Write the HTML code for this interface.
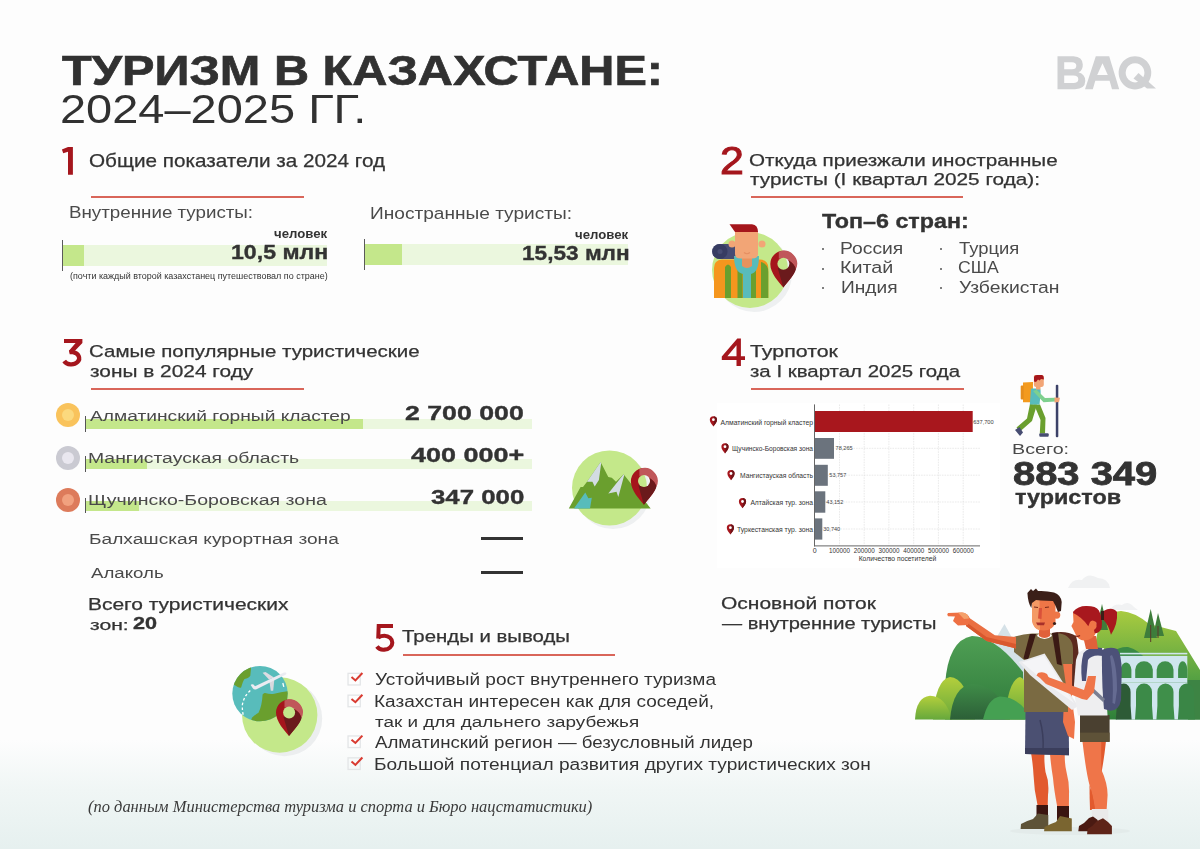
<!DOCTYPE html>
<html><head><meta charset="utf-8"><style>
html,body{margin:0;padding:0;}
body{width:1200px;height:849px;position:relative;overflow:hidden;background:linear-gradient(to bottom,#fdfdfd 0px,#fdfdfd 740px,#f0f6f5 790px,#e6f0ef 849px);}
.t{position:absolute;white-space:nowrap;transform-origin:0 0;}
.a{position:absolute;}
</style></head><body>
<svg class="a" style="left:0;top:0" width="1200" height="849" viewBox="0 0 1200 849">
<g fill="#d0d1d3" fill-rule="evenodd">
<path d="M1057.5 56.2 L1073.5 56.2 Q1082.5 56.6 1082.8 64.5 Q1083 70.5 1078.5 72.3 Q1085.3 74.3 1085.3 81 Q1085 89 1075 89.2 L1057.5 89.2 Z M1064.2 62.3 L1064.2 69.3 L1072 69.3 Q1076.3 69.3 1076.3 65.8 Q1076.3 62.3 1072 62.3 Z M1064.2 75.6 L1064.2 83.1 L1073.3 83.1 Q1078.3 83.1 1078.3 79.3 Q1078.3 75.6 1073.3 75.6 Z"/>
<path d="M1095.8 56.2 L1109.2 56.2 L1119.2 89.2 L1112 89.2 L1109.6 80.8 L1095.3 80.8 L1092.8 89.2 L1085 89.2 Z M1102.5 63.3 L1097.2 75 L1107.8 75 Z"/>
<path d="M1135 56.2 A16.3 16.6 0 1 1 1134.9 56.2 Z M1135 63.2 A9.4 9.6 0 1 0 1135.1 63.2 Z"/>
<path d="M1133.5 78.5 L1138.5 73 L1156 88.6 L1147 88.6 Z"/>
</g>
</svg>

<svg class="a" style="left:0;top:0" width="1200" height="849" viewBox="0 0 1200 849">
<defs>
<g id="mpin"><path d="M0 9 C-1.2 7.2 -3.6 4.6 -3.6 2.4 A3.6 3.6 0 0 1 3.6 2.4 C3.6 4.6 1.2 7.2 0 9 Z" fill="#a5161d"/><path d="M0 9 C1.2 7.2 3.6 4.6 3.6 2.4 A3.6 3.6 0 0 0 0.5 -1.2 L0.5 4 Z" fill="#6e1418"/><circle cx="0" cy="2.2" r="1.4" fill="#fff"/></g>
</defs>
<rect x="717" y="403" width="283" height="165" fill="#ffffff"/>
<g stroke="#dcdcdc" stroke-width="0.6" stroke-dasharray="1.6 1">
<line x1="839.5" y1="404.5" x2="839.5" y2="545.8"/>
<line x1="864.2" y1="404.5" x2="864.2" y2="545.8"/>
<line x1="888.9" y1="404.5" x2="888.9" y2="545.8"/>
<line x1="913.7" y1="404.5" x2="913.7" y2="545.8"/>
<line x1="938.4" y1="404.5" x2="938.4" y2="545.8"/>
<line x1="963.2" y1="404.5" x2="963.2" y2="545.8"/>
<line x1="814.5" y1="421.5" x2="980" y2="421.5"/>
<line x1="814.5" y1="448.3" x2="980" y2="448.3"/>
<line x1="814.5" y1="475.2" x2="980" y2="475.2"/>
<line x1="814.5" y1="502" x2="980" y2="502"/>
<line x1="814.5" y1="529" x2="980" y2="529"/>
</g>
<rect x="814.7" y="411" width="158" height="21" fill="#a8171d"/>
<rect x="814.7" y="438" width="19.3" height="20.8" fill="#6b737d"/>
<rect x="814.7" y="464.8" width="13.1" height="21" fill="#6b737d"/>
<rect x="814.7" y="491.3" width="10.6" height="21.4" fill="#6b737d"/>
<rect x="814.7" y="518.4" width="7.6" height="21.2" fill="#6b737d"/>
<line x1="814.5" y1="404.4" x2="814.5" y2="546.4" stroke="#666" stroke-width="1"/>
<line x1="814" y1="545.9" x2="980" y2="545.9" stroke="#666" stroke-width="1"/>
<g font-family="'Liberation Sans', sans-serif" fill="#333">
<g font-size="7.6" text-anchor="end">
<text x="813" y="424.6" textLength="92.5" lengthAdjust="spacingAndGlyphs">Алматинский горный кластер</text>
<text x="813" y="451.2" textLength="81" lengthAdjust="spacingAndGlyphs">Щучинско-Боровская зона</text>
<text x="813" y="478" textLength="73" lengthAdjust="spacingAndGlyphs">Мангистауская область</text>
<text x="813" y="505.2" textLength="62.6" lengthAdjust="spacingAndGlyphs">Алтайская тур. зона</text>
<text x="813" y="532" textLength="76" lengthAdjust="spacingAndGlyphs">Туркестанская тур. зона</text>
</g>
<g font-size="6.2" fill="#444">
<text x="973.2" y="423.6" textLength="20.5" lengthAdjust="spacingAndGlyphs">637,700</text>
<text x="835.6" y="450.4" textLength="17" lengthAdjust="spacingAndGlyphs">78,265</text>
<text x="829.3" y="477.3" textLength="17" lengthAdjust="spacingAndGlyphs">53,757</text>
<text x="826.3" y="504.3" textLength="17" lengthAdjust="spacingAndGlyphs">43,152</text>
<text x="823.2" y="531.2" textLength="17" lengthAdjust="spacingAndGlyphs">30,740</text>
</g>
<g font-size="7" text-anchor="middle" fill="#333">
<text x="814.6" y="553.4">0</text>
<text x="839.5" y="553.4" textLength="21" lengthAdjust="spacingAndGlyphs">100000</text>
<text x="864.2" y="553.4" textLength="21" lengthAdjust="spacingAndGlyphs">200000</text>
<text x="888.9" y="553.4" textLength="21" lengthAdjust="spacingAndGlyphs">300000</text>
<text x="913.7" y="553.4" textLength="21" lengthAdjust="spacingAndGlyphs">400000</text>
<text x="938.4" y="553.4" textLength="21" lengthAdjust="spacingAndGlyphs">500000</text>
<text x="963.2" y="553.4" textLength="21" lengthAdjust="spacingAndGlyphs">600000</text>
<text x="897.5" y="561.2" textLength="77.7" lengthAdjust="spacingAndGlyphs">Количество посетителей</text>
</g>
</g>
<use href="#mpin" x="713.4" y="417.5"/>
<use href="#mpin" x="725" y="444.5"/>
<use href="#mpin" x="731" y="471.3"/>
<use href="#mpin" x="742.5" y="499.3"/>
<use href="#mpin" x="730.4" y="525.5"/>
</svg>

<!-- red underlines -->
<div class="a" style="left:91px;top:196px;width:213px;height:2px;background:#d9665a"></div>
<div class="a" style="left:751px;top:196px;width:212px;height:2px;background:#d9665a"></div>
<div class="a" style="left:91px;top:388px;width:213px;height:2px;background:#d9665a"></div>
<div class="a" style="left:751px;top:388px;width:213px;height:2px;background:#d9665a"></div>
<div class="a" style="left:403px;top:654px;width:212px;height:2px;background:#d9665a"></div>
<!-- section1 bars -->
<div class="a" style="left:63px;top:245px;width:264px;height:21px;background:#ebf7de"></div>
<div class="a" style="left:63px;top:245px;width:21px;height:21px;background:#c4e78b"></div>
<div class="a" style="left:62px;top:240px;width:1.2px;height:31px;background:#5a5a5a"></div>
<div class="a" style="left:364px;top:244px;width:264px;height:21px;background:#ebf7de"></div>
<div class="a" style="left:364px;top:244px;width:38px;height:21px;background:#c4e78b"></div>
<div class="a" style="left:363.5px;top:239px;width:1.2px;height:31px;background:#5a5a5a"></div>
<!-- section3 bars -->
<div class="a" style="left:85px;top:419px;width:447px;height:10px;background:#ebf7de"></div>
<div class="a" style="left:85px;top:419px;width:278px;height:10px;background:#c4e78b"></div>
<div class="a" style="left:85px;top:459px;width:447px;height:10px;background:#ebf7de"></div>
<div class="a" style="left:85px;top:459px;width:62px;height:10px;background:#c4e78b"></div>
<div class="a" style="left:85px;top:501px;width:447px;height:10px;background:#ebf7de"></div>
<div class="a" style="left:85px;top:501px;width:54px;height:10px;background:#c4e78b"></div>
<div class="a" style="left:84.5px;top:416px;width:1.1px;height:16px;background:#555"></div>
<div class="a" style="left:84.5px;top:456px;width:1.1px;height:15.5px;background:#555"></div>
<div class="a" style="left:84.5px;top:498.3px;width:1.1px;height:15px;background:#555"></div>
<!-- circles -->
<div class="a" style="left:55.5px;top:403px;width:24px;height:24px;border-radius:50%;background:#f9c35c"></div>
<div class="a" style="left:61.5px;top:409px;width:12px;height:12px;border-radius:50%;background:#fbd97e"></div>
<div class="a" style="left:55.5px;top:446px;width:24px;height:24px;border-radius:50%;background:#cacad2"></div>
<div class="a" style="left:61.5px;top:452px;width:12px;height:12px;border-radius:50%;background:#e9e7ef"></div>
<div class="a" style="left:55.5px;top:488px;width:24px;height:24px;border-radius:50%;background:#dd7b5b"></div>
<div class="a" style="left:61.5px;top:494px;width:12px;height:12px;border-radius:50%;background:#f1a17f"></div>
<!-- dashes -->
<div class="a" style="left:481px;top:536.5px;width:42px;height:3px;background:#333"></div>
<div class="a" style="left:481px;top:570.5px;width:42px;height:3px;background:#333"></div>
<!-- bullets -->
<div class="a" style="left:822px;top:248px;width:2px;height:2px;background:#555;border-radius:50%"></div>
<div class="a" style="left:822px;top:267.5px;width:2px;height:2px;background:#555;border-radius:50%"></div>
<div class="a" style="left:822px;top:287px;width:2px;height:2px;background:#555;border-radius:50%"></div>
<div class="a" style="left:940px;top:248px;width:2px;height:2px;background:#555;border-radius:50%"></div>
<div class="a" style="left:940px;top:267.5px;width:2px;height:2px;background:#555;border-radius:50%"></div>
<div class="a" style="left:940px;top:287px;width:2px;height:2px;background:#555;border-radius:50%"></div>

<svg class="a" style="left:0;top:0" width="1200" height="849" viewBox="0 0 1200 849">
<defs>
<mask id="pinhole" maskUnits="userSpaceOnUse" x="-2" y="-2" width="32" height="42"><rect x="-2" y="-2" width="32" height="42" fill="#fff"/><circle cx="13.1" cy="13" r="6" fill="#000"/></mask>
<g id="bigpin"><g mask="url(#pinhole)">
<path d="M13 36.6 C8.5 31 0 22.5 0 13.1 A13.1 13.1 0 0 1 26.2 13.1 C26.2 22.5 17.5 31 13 36.6 Z" fill="#a5161c"/>
<path d="M8.5 1 A13.1 13.1 0 0 1 25.6 18.5 A15.2 15.2 0 0 0 8.5 8 Z" fill="#c0575a"/>
<path d="M7.5 17.5 L13 36.6 C17.5 31 24.5 23.5 25.6 18.5 A15.2 15.2 0 0 0 18.6 9.8 L13 13 Z" fill="#6b1a1c"/>
</g></g>
</defs>

<!-- ICON 2: traveler -->
<circle cx="754" cy="274" r="38" fill="#eef0f1"/>
<circle cx="750" cy="270" r="38" fill="#c4e88a"/>
<rect x="712" y="244" width="30" height="15" rx="7.5" fill="#474c73"/>
<circle cx="720" cy="251.5" r="7.5" fill="#373c62"/>
<circle cx="720" cy="251.5" r="2.5" fill="#474c73"/>
<path d="M714 298 L714 268 Q714 260 722 259.5 L760 259.5 Q768.3 260 768.3 268 L768.3 298 Z" fill="#f5961e"/>
<path d="M725 298 L725 267 Q728 262 731 267 L731 298 Z" fill="#6a9f2e"/>
<path d="M737.5 298 L737.5 270 L742.6 270 L742.6 298 Z" fill="#6a9f2e"/>
<path d="M751 298 L751 270 L756 270 L756 298 Z" fill="#6a9f2e"/>
<path d="M761 298 L761 262 Q768.3 264 768.3 272 L768.3 298 Z" fill="#6a9f2e"/>
<path d="M734 256 Q734 272 743 274 L743 298 L751 298 L751 274 Q759 272 759 256 Z" fill="#58bcbb"/>
<path d="M742 256 L752 256 L752 266 Q747 270 742 266 Z" fill="#e8925e"/>
<circle cx="732" cy="244" r="3.5" fill="#f2a576"/>
<circle cx="762" cy="244" r="3.5" fill="#f2a576"/>
<path d="M735 232 L758 232 L758 254 Q758 258.5 752 258.5 L741 258.5 Q735 258.5 735 254 Z" fill="#f2a576"/>
<path d="M744 252.5 Q747 255 750 252.5" stroke="#e58f62" stroke-width="1.2" fill="none"/>
<path d="M729.5 224.2 L752 224.2 Q758 225 758 232 L735 232 Z" fill="#a5161c"/>

<!-- ICON 3: mountains -->
<circle cx="613" cy="491.5" r="37.5" fill="#eef0f1"/>
<circle cx="609.5" cy="488" r="37.5" fill="#c4e88a"/>
<polygon points="568.8,508.5 580.6,487.1 583,487 587,481.8 600.6,462.1 608.3,477.1 611.8,477.7 616,481.8 623.6,474.2 650.7,508.5" fill="#6a9f2e"/>
<polygon points="587,481.8 600.6,462.1 601.2,463 598.9,480 594.7,486.5 592.4,481.8" fill="#d3dce3"/>
<polygon points="608.3,493.6 623.6,474.2 624.2,475.3 618.3,497.1 616.5,491.8" fill="#d3dce3"/>
<polygon points="573.9,508.5 585.3,492.4 588.3,498.3 591.8,497.7 590,508.5" fill="#58bcbb"/>

<!-- ICON 5: globe -->
<circle cx="284.5" cy="718.5" r="37.7" fill="#eceeef"/>
<circle cx="279.7" cy="715" r="37.7" fill="#c4e88a"/>
<circle cx="260" cy="693.6" r="27.7" fill="#58bcbb"/>
<clipPath id="gclip"><circle cx="260" cy="693.6" r="27.7"/></clipPath>
<g clip-path="url(#gclip)" fill="#6a9f2e">
<path d="M230 688 L234.2 684.7 Q240 689 241.2 687.2 Q243 681 244.5 679 Q249 678 250.3 675.7 L251.1 667.8 L251 660 L228 660 Z"/>
<path d="M250 725 L251.9 717.7 Q256 714 258.5 712.8 Q262 706 262.6 694.6 Q264 692.5 265.1 693 Q270 694.5 274.2 693.8 Q281 692 287.4 691.3 L292 691 L292 725 Z"/>
</g>
<path d="M250.3 690.5 Q244 696 242.4 704.5 Q242 711 243.7 716.9" stroke="#fff" stroke-width="1.3" fill="none" stroke-dasharray="2.6 2.2"/>
<path d="M282.8 683 L283.8 686.8" stroke="#fff" stroke-width="1.3" fill="none"/>
<path d="M262.6 672.8 L265.5 672 L274 677.5 L269 679.5 Z" fill="#dcdce2"/>
<path d="M269.2 680 L274.5 677.5 L273.2 690.8 L270.8 690.8 Z" fill="#d9d9de"/>
<path d="M250.7 685 Q251.5 684 253.5 684.6 L255 686.3 L284 672.6 Q287.5 671.8 286 674.6 L256.5 689.2 Q254 690 252.8 688.2 Z" fill="#ebebf2"/>

<use href="#bigpin" transform="translate(770.3,250.8)"/>
<use href="#bigpin" transform="translate(630.9,468.1)"/>
<use href="#bigpin" transform="translate(276,699.5)"/>
<!-- walker -->
<rect x="1055.8" y="384.8" width="2.5" height="52.4" rx="1" fill="#3c4268"/>
<path d="M1030 404 L1037 404.5 L1032 421 L1020 431.5 L1016.5 427.5 L1027 418.5 Z" fill="#6a9f2e"/>
<path d="M1034 404.5 L1040 404.5 L1045.5 418 L1045 433.5 L1039.8 433.5 L1040.5 420 Z" fill="#6a9f2e"/>
<path d="M1015 430 L1019.5 427 L1023 432.5 L1020 436 Z" fill="#474d72"/>
<rect x="1039.3" y="433.3" width="9.4" height="3.5" rx="1" fill="#474d72"/>
<path d="M1023 382.5 L1033 382 L1032.7 402.2 L1023 402.2 Z" fill="#f39a1e"/>
<rect x="1020.7" y="385.5" width="3" height="14" rx="1" fill="#e68e1c"/>
<path d="M1031 388.5 L1040 388.5 Q1041 390 1040.5 395 L1039.5 404.6 L1029.8 404.6 Z" fill="#58bcbb"/>
<path d="M1033 391 L1036.5 389.8 L1045 398 L1055 397.8 L1055 401.6 L1043.5 402.2 Z" fill="#7ed08e"/>
<path d="M1054.5 397.6 L1060 397.8 L1059 402 L1054.5 402.4 Z" fill="#f2a576"/>
<rect x="1036" y="385.5" width="4.5" height="4" fill="#f2a576"/>
<path d="M1033.9 376 Q1034 375 1036 375 L1042 375 Q1043.8 375.5 1043.8 377 L1043.8 385 Q1043.5 387 1041.5 387 L1036 387 Q1034 387 1033.9 385 Z" fill="#f2a576"/>
<path d="M1034 381.5 L1034 377 Q1034.5 375 1037 375 L1042 375 Q1043.8 375.5 1043.8 378 L1043.8 379.5 L1041 379 L1039.5 380.5 L1038 379.5 L1036 382 Z" fill="#a5161c"/>
</svg>

<svg class="a" style="left:0;top:0" width="1200" height="849" viewBox="0 0 1200 849">
<rect x="348.05" y="673.35" width="12.2" height="11.6" fill="none" stroke="#e3e5e7" stroke-width="1.3"/>
<polyline points="351.5,677.10 355.4,680.40 362.4,673.00" fill="none" stroke="#d93a30" stroke-width="2"/>
<rect x="348.05" y="695.15" width="12.2" height="11.6" fill="none" stroke="#e3e5e7" stroke-width="1.3"/>
<polyline points="351.5,698.90 355.4,702.20 362.4,694.80" fill="none" stroke="#d93a30" stroke-width="2"/>
<rect x="348.05" y="735.95" width="12.2" height="11.6" fill="none" stroke="#e3e5e7" stroke-width="1.3"/>
<polyline points="351.5,739.70 355.4,743.00 362.4,735.60" fill="none" stroke="#d93a30" stroke-width="2"/>
<rect x="348.05" y="757.85" width="12.2" height="11.6" fill="none" stroke="#e3e5e7" stroke-width="1.3"/>
<polyline points="351.5,761.60 355.4,764.90 362.4,757.50" fill="none" stroke="#d93a30" stroke-width="2"/>
</svg>
<svg class="a" style="left:0;top:0" width="1200" height="849" viewBox="0 0 1200 849">
<defs>
<linearGradient id="gh1" x1="0" y1="0" x2="0" y2="1"><stop offset="0" stop-color="#a9cb3f"/><stop offset="0.6" stop-color="#58a343"/><stop offset="1" stop-color="#2e7f3a"/></linearGradient>
<linearGradient id="gh2" x1="0" y1="0" x2="0" y2="1"><stop offset="0" stop-color="#4f9f54"/><stop offset="1" stop-color="#2f7a3b"/></linearGradient>
<linearGradient id="gh3" x1="0" y1="0" x2="0" y2="1"><stop offset="0" stop-color="#b4cf3c"/><stop offset="1" stop-color="#66a83c"/></linearGradient>
<linearGradient id="gh4" x1="0" y1="0" x2="0" y2="1"><stop offset="0" stop-color="#3f8c48"/><stop offset="1" stop-color="#2c5f37"/></linearGradient>
</defs>
<!-- clouds -->
<path d="M1068 588 Q1072 578 1082 580 Q1088 572 1098 578 Q1108 578 1110 588 Z" fill="#f0f1f2"/>
<path d="M1110 610 Q1114 603 1122 605 Q1128 600 1134 607 L1138 610 Z" fill="#f1f2f3"/>
<!-- right hill -->
<path d="M1092 719.6 L1096 640 Q1100 612 1121 611 Q1135 612 1149 624 L1176 631 L1200 670 L1200 719.6 Z" fill="url(#gh1)"/>
<!-- trees -->
<g fill="#3e7d3b">
<polygon points="1150.7,609 1144,638 1157,638"/>
<polygon points="1158,613 1153,636 1164,636"/>
<polygon points="1102,604 1096,630 1108,630"/>
</g>
<g stroke="#5a3a2a" stroke-width="1"><line x1="1150.7" y1="625" x2="1150.7" y2="642"/><line x1="1158" y1="626" x2="1158" y2="638"/></g>
<!-- behind-bridge dark greens -->
<path d="M1104 665 Q1112 646 1128 647 Q1140 650 1148 662 Z" fill="#3a8a45"/>
<path d="M1140 719.6 Q1150 690 1170 680 L1200 680 L1200 719.6 Z" fill="#3d8444"/>
<!-- bridge -->
<rect x="1120" y="652.8" width="67.3" height="1.6" fill="#cfe6ee"/>
<rect x="1120" y="655.9" width="67.3" height="26.8" fill="#cfe6ee"/>
<path d="M1117 682.7 L1187.3 682.7 L1188 719.4 L1117 719.4 Z" fill="#cfe6ee"/>
<path d="M1120.7 678.0 L1120.7 669.7 A5.4 8.4 0 0 1 1131.4 669.7 L1131.4 678.0 Z" fill="#3f8f4a"/>
<path d="M1135.2 678.0 L1135.2 669.7 A8.8 8.4 0 0 1 1152.8 669.7 L1152.8 678.0 Z" fill="#3f8f4a"/>
<path d="M1156.7 678.0 L1156.7 669.7 A8.4 8.4 0 0 1 1173.5 669.7 L1173.5 678.0 Z" fill="#3f8f4a"/>
<path d="M1178.1 678.0 L1178.1 669.7 A4.6 8.4 0 0 1 1187.3 669.7 L1187.3 678.0 Z" fill="#3f8f4a"/>
<path d="M1115.8 719.4 L1116.8 705.7 L1116.8 692.0 A6.9 8.5 0 0 1 1130.6 692.0 L1130.6 705.7 L1131.6 719.4 Z" fill="#2d5b36"/>
<path d="M1135.0 719.4 L1136.0 705.7 L1136.0 692.0 A8.0 8.5 0 0 1 1152.0 692.0 L1152.0 705.7 L1153.0 719.4 Z" fill="#3c8a48"/>
<path d="M1156.4 719.4 L1157.4 705.7 L1157.4 692.0 A8.0 8.5 0 0 1 1173.5 692.0 L1173.5 705.7 L1174.5 719.4 Z" fill="#3f8f4a"/>
<path d="M1177.9 719.4 L1178.9 705.7 L1178.9 692.0 A7.5 8.5 0 0 1 1194.0 692.0 L1194.0 705.7 L1195.0 719.4 Z" fill="#3a8646"/>
<!-- snowy peak -->
<path d="M980 665 L1004.5 624 L1010 634 L1032 676 L1000 690 Z" fill="#d5e1e7"/>
<!-- big left hill -->
<path d="M945 719.6 L945 685 Q948 640 972 636 Q995 636 1023 672 L1025 719.6 Z" fill="url(#gh2)"/>
<!-- small front hills -->
<path d="M933 719.6 Q935 680 950 677 Q966 677 975 719.6 Z" fill="url(#gh3)"/>
<path d="M915 719.6 Q916 697 930 695.7 Q946 696 952 719.6 Z" fill="url(#gh3)"/>
<path d="M950 719.6 Q953 686 972 684 Q998 684 1010 719.6 Z" fill="url(#gh4)"/>
<path d="M1005 719.6 Q1008 680 1020 677 Q1030 680 1032 719.6 Z" fill="url(#gh3)"/>
<path d="M983 719.6 Q988 698 1000 696.6 Q1020 697 1032 719.6 Z" fill="#45a052"/>
<!-- ground shadow -->
<ellipse cx="1070" cy="831" rx="60" ry="4" fill="#e3ebea"/>
<!-- MAN -->
<!-- backpack behind -->
<path d="M1052 633 Q1066 630 1076 636 Q1080 650 1079 690 L1068 690 L1062 660 Z" fill="#5b2a1f"/>
<!-- legs -->
<path d="M1031.2 754 L1044.5 754 Q1044 762 1045.5 772 Q1049.5 782 1048 795 L1047.7 806 L1037.7 806 Q1034 790 1033.5 775 Q1033 765 1031.2 754 Z" fill="#e25a2e"/>
<path d="M1050 754 L1064.8 754 Q1064.5 764 1066.5 772 Q1069.5 783 1069 795 L1068.9 806 L1057.1 806 Q1054 790 1053 778 Q1051 766 1050 754 Z" fill="#ef7549"/>
<rect x="1036.5" y="805" width="11.5" height="13" fill="#3a1510"/>
<rect x="1057" y="806" width="12" height="14" fill="#3a1510"/>
<path d="M1020.6 829 L1021 824 Q1026 821 1033 819 L1038 813.6 L1048.3 815 L1048.3 829 Z" fill="#5e5338"/>
<path d="M1044.1 831.3 L1044.5 827 Q1050 824 1056 822 L1060 816 L1071.8 818.5 L1071.8 831.3 Z" fill="#7a6530"/>
<!-- shorts -->
<path d="M1025.5 711 L1068.7 711 L1069 755.2 L1025 754 Z" fill="#4b5072"/>
<path d="M1025 748 L1069 748 L1069 755.2 L1025 754 Z" fill="#3b3e5c"/>
<path d="M1040 720 Q1044 735 1043 750" stroke="#3b3e5c" stroke-width="1.5" fill="none"/>
<!-- hanging arm -->
<path d="M1063 663 L1072.2 663 L1072 700 L1075 722 L1074 739 L1068 736 L1063 722 L1064 700 Z" fill="#ef7549"/>
<!-- shirt -->
<path d="M1014 637 Q1022 634 1032 633.5 L1060 633.5 Q1072 636 1073 648 L1073 664 L1063 664 L1068 700 L1068 712 L1024 712 L1024 660 L1014 652 Z" fill="#7a6a42"/>
<path d="M1029.8 634 L1036 634 L1028 660 L1023.4 658.4 Z" fill="#3b1a14"/>
<path d="M1052 633 L1058 632.5 L1062 665.4 L1057 664 Z" fill="#3b1a14"/>
<path d="M1037 636 Q1044.5 642 1052 636 L1051 634 Q1044.5 639 1038 634 Z" fill="#ffffff"/>
<!-- neck -->
<path d="M1039 624 L1050 624 L1050 636 Q1044.5 640 1039 636 Z" fill="#e0603a"/>
<!-- head -->
<circle cx="1056.7" cy="615.1" r="3.6" fill="#ee7647"/>
<path d="M1032 600 L1055.5 600 L1055.5 622 Q1053 630.6 1044 630.6 Q1033 630 1032 620 Z" fill="#ee7647"/>
<path d="M1032 600 L1039.5 600 L1040 630.4 Q1033 629 1032 620 Z" fill="#f49a65"/>
<path d="M1039 608 L1042 608 L1041.5 619 L1038 618.5 Z" fill="#d9513a"/>
<path d="M1036 622.5 L1045 622.5 L1044 625.3 L1037.5 625.3 Z" fill="#a8302a"/>
<path d="M1034 607 L1038 607.5 M1045 607.5 L1049 607" stroke="#7a2a1a" stroke-width="1.2"/>
<path d="M1027.4 593 L1031 589 L1033 591 L1036 588.5 L1038 591 Q1046 590.5 1054 592.5 Q1061 595 1061.7 602 L1061 611 L1058 612 Q1056 606 1053 601 L1041 600.5 L1036 600 L1032 603 L1031.3 608 Q1028 603 1027.4 593 Z" fill="#3b1f18"/>
<circle cx="1054.5" cy="623.5" r="1.6" fill="#3b1f18"/>
<!-- pointing arm -->
<path d="M968 617 L994.8 635.3 L1016 637 L1016 648.5 L986.5 641 L966 626 Z" fill="#ea6f42"/>
<path d="M966 622 L986.5 637 L1016 644 L1016 648.5 L986.5 641 L966 626 Z" fill="#d9582e"/>
<path d="M948 613 L962 612.5 Q968 613 970 619 L968 625 L958 625.5 L953 621 L955 616.5 L948 616.2 Q946.5 614.6 948 613 Z" fill="#ee7043"/>
<path d="M958 612.8 L962 612.5 Q968 613 969 618.5 L964 619 Z" fill="#f4a06a"/>
<!-- MAP -->
<path d="M1018.5 662 L1044.6 653.4 L1078 706 L1072 710 L1048 690 L1030 675 Z" fill="#ebebee"/>
<path d="M1022 662.5 L1044 655.5 L1074 703 L1050 686 Z" fill="#f5f5f7"/>
<path d="M1038 673 Q1043 671 1047 674 L1050 680 L1046 684 L1040 678 L1036.5 675.5 Z" fill="#ef7549"/>
<!-- WOMAN -->
<!-- legs -->
<path d="M1096 741 L1106 741 Q1104 760 1101 775 Q1098 790 1097 810 L1090 810 Q1090 790 1094 770 Z" fill="#e25a2e"/>
<path d="M1082.4 741 L1101.3 741 Q1101 757 1101.5 770 Q1107.5 783 1107.6 795 L1106.6 810 L1095 810 Q1093 795 1089.5 785 Q1086 772 1082.4 741 Z" fill="#ef7549"/>
<path d="M1089.5 785 Q1093 795 1095 810 L1090 810 Q1089.5 797 1089.5 785 Z" fill="#e25a2e"/>
<rect x="1091.8" y="809" width="16.5" height="16" fill="#eaeaea"/>
<path d="M1078.3 831.3 L1079 826 Q1085 823 1089 818 L1093 816.6 L1097.7 820 L1097.7 831.3 Z" fill="#4a1a12"/>
<path d="M1087.1 834.2 L1087.5 829 Q1093 826 1097 821 L1103 818.3 L1108 822 L1111.9 826 L1111.9 834.2 Z" fill="#5e2418"/>
<!-- shorts -->
<path d="M1080 715 L1109.6 715 L1109.6 741.8 L1080 741.8 Z" fill="#4a4030"/>
<path d="M1080 732.6 L1109.6 732.6 L1109.6 741.8 L1080 741.8 Z" fill="#5e5238"/>
<!-- shirt -->
<path d="M1076 660 Q1078 649 1090 648 L1104 648 L1107.5 715.6 L1078 715.6 L1073.6 690 Z" fill="#eeeef0"/>
<!-- backpack -->
<path d="M1101.9 650 Q1110 646 1117 649 Q1121.7 654 1121.7 672 L1121 700 Q1119 711 1110 710.7 L1104 709 Q1102 690 1101.9 660 Z" fill="#4c5178"/>
<path d="M1112 655 Q1117 665 1117 690 L1115 704 L1112.5 703 Q1114 680 1110 656 Z" fill="#656b92"/>
<path d="M1083.5 653 Q1090 646 1102 648 L1103 656 Q1092 654 1088 660 L1086 681 L1082 681 Q1080 665 1083.5 653 Z" fill="#4c5178"/>
<path d="M1092 687 L1105 699 L1103 702 L1090.5 690.5 Z" fill="#7a7f93"/>
<!-- arm -->
<path d="M1088 676 L1096 676 L1094 692 L1087 700 L1082 699 L1046 684 L1048 677 L1084 690 Z" fill="#ef7549"/>
<!-- neck & head -->
<path d="M1083 636 L1096 636 L1098 649 L1086 649 Z" fill="#e0603a"/>
<path d="M1073 613 L1095 612 L1097 630 Q1094 640.4 1084 640.4 Q1078 640 1076 635 L1073.5 630 L1071.4 626 L1073.5 622 Z" fill="#ee7647"/>
<circle cx="1094.3" cy="626.3" r="3.5" fill="#ee7647"/>
<path d="M1073.1 611.8 Q1078 606 1086.2 606.1 Q1096 606 1098.9 610.4 Q1103 618 1101.7 627.7 Q1100 633 1094.7 633.3 L1094 630 Q1098 627 1096 622 Q1092 619 1090 622 L1088.3 626.3 Q1082 617 1073.1 613 Z" fill="#a8181e"/>
<path d="M1103.5 611 Q1112 606 1117 612 Q1118 624 1111 634.7 Q1108 624 1103.5 620 Z" fill="#a8181e"/>
<rect x="1101" y="611" width="3" height="9" fill="#3b1f18"/>
<path d="M1075 636 Q1078 637 1080 635.5" stroke="#8a2a1a" stroke-width="1.2" fill="none"/>
</svg>

<svg class="a" style="left:0;top:0" width="1200" height="849" viewBox="0 0 1200 849">
<g fill="#a5161d">
<path d="M61.9 149.4 L68 146.9 L72.9 146.9 L72.9 174.7 L68 174.7 L68 151.8 L63.2 153.3 Z"/>
<path d="M64 339 L82.4 339 L82.4 343 L75.2 350.6 L70 353.8 L68.9 350.8 L75.6 343 L64 343 Z"/>
<path d="M721.8 356.6 L737.3 338.5 L740.9 338.5 L740.9 356.2 L745 356.2 L745 360 L740.9 360 L740.9 366.1 L736.5 366.1 L736.5 360 L721.8 360 Z M727.4 356.2 L736.5 356.2 L736.5 345.3 Z" fill-rule="evenodd"/>
</g>
<g fill="none" stroke="#a5161d">
<path d="M69.5 352.2 Q72 352 73 352.2 A7.9 6.2 0 1 1 64.2 361" stroke-width="4.3"/>
<path d="M393 626 L378.7 626 L378.2 638.5" stroke-width="4"/>
<path d="M378.2 637.5 Q381 635.8 384.5 635.8 A7.8 6.9 0 0 1 392.3 642.7 A7.8 6.9 0 0 1 384.5 649.6 A7.8 6.9 0 0 1 376.9 646.6" stroke-width="4.1"/>
</g>
</svg>


<div class="t" style="left:62.00px;top:49.35px;font:normal bold 43.30px/43.30px 'Liberation Sans', sans-serif;color:#313131;transform:scaleX(1.1236);-webkit-text-stroke:0.7px #313131;">ТУРИЗМ В КАЗАХСТАНЕ:</div>
<div class="t" style="left:59.80px;top:89.12px;font:normal normal 41.20px/41.20px 'Liberation Sans', sans-serif;color:#313131;transform:scaleX(1.1404);">2024–2025 ГГ.</div>
<div class="t" style="left:89.03px;top:151.63px;font:normal normal 18.16px/18.16px 'Liberation Sans', sans-serif;color:#333333;transform:scaleX(1.1399);-webkit-text-stroke:0.25px currentColor;">Общие показатели за 2024 год</div>
<div class="t" style="left:68.53px;top:205.31px;font:normal normal 16.76px/16.76px 'Liberation Sans', sans-serif;color:#4a4a4a;transform:scaleX(1.1197);">Внутренние туристы:</div>
<div class="t" style="left:273.59px;top:226.91px;font:normal bold 13.10px/13.10px 'Liberation Sans', sans-serif;color:#333333;transform:scaleX(1.0083);">человек</div>
<div class="t" style="left:231.05px;top:243.45px;font:normal bold 19.55px/19.55px 'Liberation Sans', sans-serif;color:#333333;transform:scaleX(1.1835);-webkit-text-stroke:0.35px currentColor;">10,5 млн</div>
<div class="t" style="left:69.58px;top:271.53px;font:normal normal 9.06px/9.06px 'Liberation Sans', sans-serif;color:#333333;transform:scaleX(0.9909);">(почти каждый второй казахстанец путешествовал по стране)</div>
<div class="t" style="left:369.51px;top:205.40px;font:normal normal 16.06px/16.06px 'Liberation Sans', sans-serif;color:#4a4a4a;transform:scaleX(1.1898);">Иностранные туристы:</div>
<div class="t" style="left:574.59px;top:227.91px;font:normal bold 13.10px/13.10px 'Liberation Sans', sans-serif;color:#333333;transform:scaleX(1.0083);">человек</div>
<div class="t" style="left:521.59px;top:243.27px;font:normal bold 20.95px/20.95px 'Liberation Sans', sans-serif;color:#333333;transform:scaleX(1.0803);-webkit-text-stroke:0.35px currentColor;">15,53 млн</div>
<div class="t" style="left:719.99px;top:142.03px;font:normal normal 38.83px/38.83px 'Liberation Sans', sans-serif;color:#a5161d;transform:scaleX(1.1044);-webkit-text-stroke:1px #a5161d;">2</div>
<div class="t" style="left:749.03px;top:152.81px;font:normal normal 16.76px/16.76px 'Liberation Sans', sans-serif;color:#333333;transform:scaleX(1.2300);-webkit-text-stroke:0.25px currentColor;">Откуда приезжали иностранные</div>
<div class="t" style="left:749.68px;top:171.81px;font:normal normal 16.76px/16.76px 'Liberation Sans', sans-serif;color:#333333;transform:scaleX(1.2405);-webkit-text-stroke:0.25px currentColor;">туристы (I квартал 2025 года):</div>
<div class="t" style="left:822.00px;top:212.45px;font:normal bold 19.55px/19.55px 'Liberation Sans', sans-serif;color:#333333;transform:scaleX(1.1923);-webkit-text-stroke:0.35px currentColor;">Топ–6 стран:</div>
<div class="t" style="left:840.49px;top:240.40px;font:normal normal 16.06px/16.06px 'Liberation Sans', sans-serif;color:#4a4a4a;transform:scaleX(1.2020);">Россия</div>
<div class="t" style="left:840.46px;top:259.40px;font:normal normal 16.06px/16.06px 'Liberation Sans', sans-serif;color:#4a4a4a;transform:scaleX(1.2302);">Китай</div>
<div class="t" style="left:840.50px;top:279.40px;font:normal normal 16.06px/16.06px 'Liberation Sans', sans-serif;color:#4a4a4a;transform:scaleX(1.1925);">Индия</div>
<div class="t" style="left:958.71px;top:240.40px;font:normal normal 16.06px/16.06px 'Liberation Sans', sans-serif;color:#4a4a4a;transform:scaleX(1.1480);">Турция</div>
<div class="t" style="left:958.17px;top:259.40px;font:normal normal 16.06px/16.06px 'Liberation Sans', sans-serif;color:#4a4a4a;transform:scaleX(1.1002);">США</div>
<div class="t" style="left:958.70px;top:279.40px;font:normal normal 16.06px/16.06px 'Liberation Sans', sans-serif;color:#4a4a4a;transform:scaleX(1.2058);">Узбекистан</div>
<div class="t" style="left:89.04px;top:343.81px;font:normal normal 16.76px/16.76px 'Liberation Sans', sans-serif;color:#333333;transform:scaleX(1.2220);-webkit-text-stroke:0.25px currentColor;">Самые популярные туристические</div>
<div class="t" style="left:89.67px;top:363.81px;font:normal normal 16.76px/16.76px 'Liberation Sans', sans-serif;color:#333333;transform:scaleX(1.2455);-webkit-text-stroke:0.25px currentColor;">зоны в 2024 году</div>
<div class="t" style="left:90.00px;top:407.50px;font:normal normal 15.36px/15.36px 'Liberation Sans', sans-serif;color:#4a4a4a;transform:scaleX(1.2496);">Алматинский горный кластер</div>
<div class="t" style="left:88.49px;top:450.00px;font:normal normal 15.36px/15.36px 'Liberation Sans', sans-serif;color:#4a4a4a;transform:scaleX(1.2620);">Мангистауская область</div>
<div class="t" style="left:88.47px;top:492.00px;font:normal normal 15.36px/15.36px 'Liberation Sans', sans-serif;color:#4a4a4a;transform:scaleX(1.2725);">Щучинско-Боровская зона</div>
<div class="t" style="left:405.16px;top:404.45px;font:normal bold 19.55px/19.55px 'Liberation Sans', sans-serif;color:#333333;transform:scaleX(1.3671);-webkit-text-stroke:0.35px currentColor;">2 700 000</div>
<div class="t" style="left:410.60px;top:446.45px;font:normal bold 19.55px/19.55px 'Liberation Sans', sans-serif;color:#333333;transform:scaleX(1.3813);-webkit-text-stroke:0.35px currentColor;">400 000+</div>
<div class="t" style="left:430.60px;top:488.45px;font:normal bold 19.55px/19.55px 'Liberation Sans', sans-serif;color:#333333;transform:scaleX(1.3222);-webkit-text-stroke:0.35px currentColor;">347 000</div>
<div class="t" style="left:89.01px;top:531.00px;font:normal normal 15.36px/15.36px 'Liberation Sans', sans-serif;color:#4a4a4a;transform:scaleX(1.2454);">Балхашская курортная зона</div>
<div class="t" style="left:90.50px;top:565.00px;font:normal normal 15.36px/15.36px 'Liberation Sans', sans-serif;color:#4a4a4a;transform:scaleX(1.2149);">Алаколь</div>
<div class="t" style="left:88.36px;top:595.90px;font:normal normal 16.06px/16.06px 'Liberation Sans', sans-serif;color:#333333;transform:scaleX(1.3063);-webkit-text-stroke:0.25px currentColor;">Всего туристических</div>
<div class="t" style="left:90.17px;top:617.77px;font:normal normal 14.45px/14.45px 'Liberation Sans', sans-serif;color:#333333;transform:scaleX(1.4621);-webkit-text-stroke:0.25px currentColor;">зон:</div>
<div class="t" style="left:133.07px;top:615.81px;font:normal bold 16.76px/16.76px 'Liberation Sans', sans-serif;color:#333333;transform:scaleX(1.2902);-webkit-text-stroke:0.35px currentColor;">20</div>
<div class="t" style="left:749.67px;top:343.81px;font:normal normal 16.76px/16.76px 'Liberation Sans', sans-serif;color:#333333;transform:scaleX(1.2758);-webkit-text-stroke:0.25px currentColor;">Турпоток</div>
<div class="t" style="left:749.68px;top:363.81px;font:normal normal 16.76px/16.76px 'Liberation Sans', sans-serif;color:#333333;transform:scaleX(1.2201);-webkit-text-stroke:0.25px currentColor;">за I квартал 2025 года</div>
<div class="t" style="left:1012.46px;top:442.07px;font:normal normal 14.80px/14.80px 'Liberation Sans', sans-serif;color:#4a4a4a;transform:scaleX(1.3304);">Всего:</div>
<div class="t" style="left:1012.75px;top:458.45px;font:normal bold 32.54px/32.54px 'Liberation Sans', sans-serif;color:#333333;transform:scaleX(1.2262);-webkit-text-stroke:0.8px #333;">883 349</div>
<div class="t" style="left:1014.63px;top:488.36px;font:normal bold 19.65px/19.65px 'Liberation Sans', sans-serif;color:#333333;transform:scaleX(1.1901);-webkit-text-stroke:0.35px currentColor;">туристов</div>
<div class="t" style="left:720.72px;top:595.63px;font:normal normal 16.62px/16.62px 'Liberation Sans', sans-serif;color:#333333;transform:scaleX(1.2636);-webkit-text-stroke:0.25px currentColor;">Основной поток</div>
<div class="t" style="left:721.70px;top:616.23px;font:normal normal 16.62px/16.62px 'Liberation Sans', sans-serif;color:#333333;transform:scaleX(1.2089);-webkit-text-stroke:0.25px currentColor;">— внутренние туристы</div>
<div class="t" style="left:402.18px;top:628.81px;font:normal normal 16.76px/16.76px 'Liberation Sans', sans-serif;color:#333333;transform:scaleX(1.2169);-webkit-text-stroke:0.25px currentColor;">Тренды и выводы</div>
<div class="t" style="left:374.70px;top:672.45px;font:normal normal 15.71px/15.71px 'Liberation Sans', sans-serif;color:#333333;transform:scaleX(1.2124);">Устойчивый рост внутреннего туризма</div>
<div class="t" style="left:373.51px;top:694.14px;font:normal normal 15.78px/15.78px 'Liberation Sans', sans-serif;color:#333333;transform:scaleX(1.2069);">Казахстан интересен как для соседей,</div>
<div class="t" style="left:374.70px;top:714.77px;font:normal normal 14.45px/14.45px 'Liberation Sans', sans-serif;color:#333333;transform:scaleX(1.3087);">так и для дальнего зарубежья</div>
<div class="t" style="left:375.00px;top:734.64px;font:normal normal 15.78px/15.78px 'Liberation Sans', sans-serif;color:#333333;transform:scaleX(1.1846);">Алматинский регион — безусловный лидер</div>
<div class="t" style="left:373.50px;top:756.64px;font:normal normal 15.78px/15.78px 'Liberation Sans', sans-serif;color:#333333;transform:scaleX(1.2128);">Большой потенциал развития других туристических зон</div>
<div class="t" style="left:88.49px;top:797.98px;font:italic normal 17.22px/17.22px 'Liberation Serif', serif;color:#3a3a3a;transform:scaleX(0.9566);">(по данным Министерства туризма и спорта и Бюро нацстатистики)</div>
</body></html>
